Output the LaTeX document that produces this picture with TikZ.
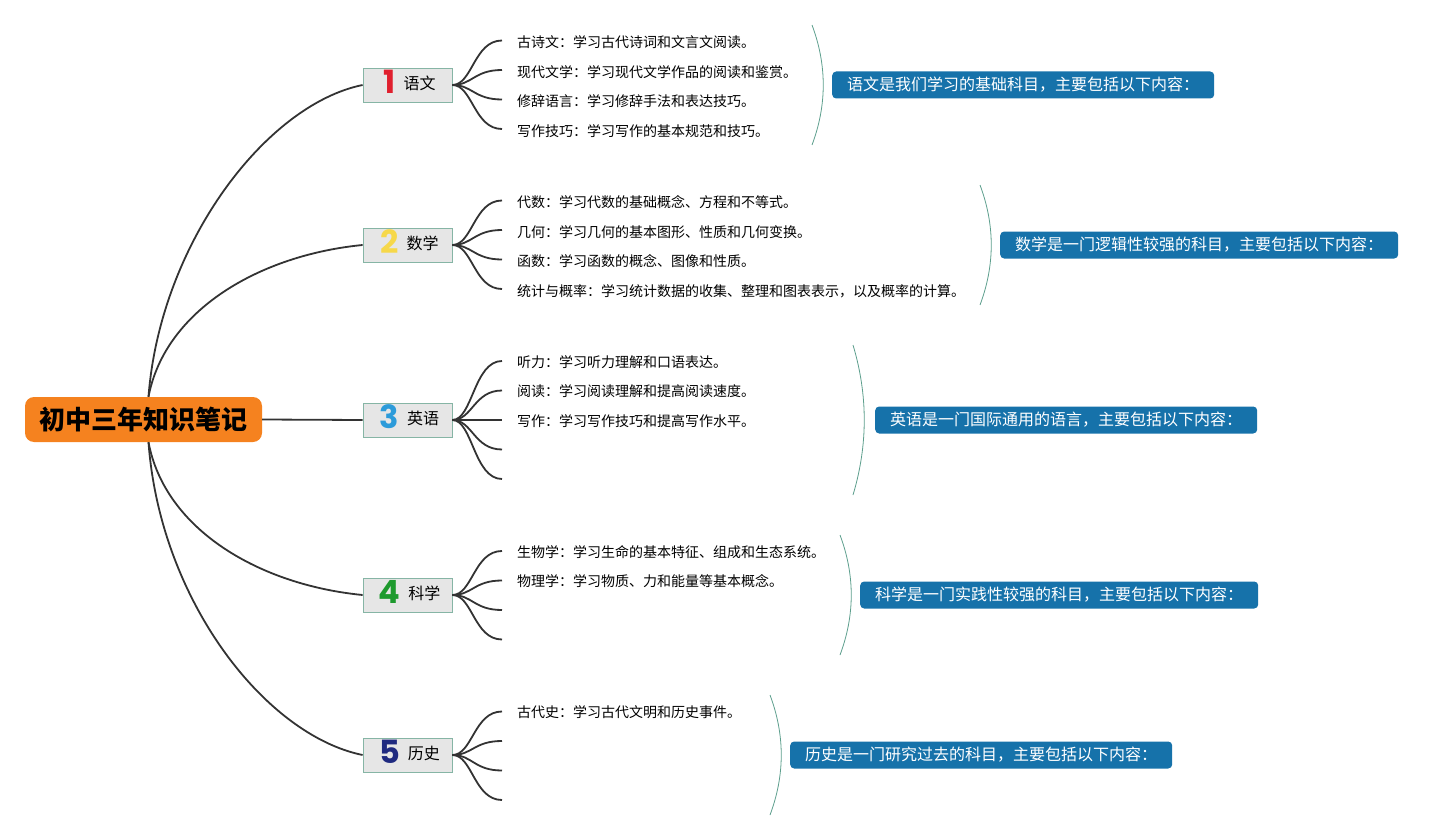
\documentclass[tikz,border=0pt]{standalone}
\usepackage{fontspec}
\setmainfont{Noto Sans CJK SC}
\newfontfamily\numfont{Poppins}
\usepackage{xcolor}
\usepackage{tikz}
\usetikzlibrary{positioning, calc}
\definecolor{rootorange}{HTML}{F5821F}
\definecolor{notesblue}{HTML}{1672AA}
\definecolor{boxfill}{HTML}{E6E6E6}
\definecolor{boxline}{HTML}{86B5A5}
\definecolor{arcgreen}{HTML}{5C9E8C}
\definecolor{linkgray}{HTML}{333333}
\definecolor{numred}{HTML}{E0202E}
\definecolor{numyellow}{HTML}{F6D84A}
\definecolor{numblue}{HTML}{2C9BDA}
\definecolor{numgreen}{HTML}{1E9A2E}
\definecolor{numnavy}{HTML}{1F2A80}

\newcommand{\subj}[2]{\raisebox{-4pt}{\smash{\textcolor{#1}{\numfont\bfseries\fontsize{32}{32}\selectfont #2}}}\hspace{8pt}}

\begin{document}
\begin{tikzpicture}[x=1pt, y=-1pt,
  rootbox/.style={fill=rootorange, rounded corners=9pt, minimum width=237pt, minimum height=45pt, inner sep=0pt, font=\fontsize{26}{28}\selectfont\bfseries},
  subject/.style={draw=boxline, fill=boxfill, line width=0.8pt, minimum width=89pt, minimum height=34pt, inner sep=0pt, font=\fontsize{16}{18}\selectfont},
  leaf/.style={anchor=west, inner sep=0pt, font=\fontsize{14}{16}\selectfont},
  summary/.style={fill=notesblue, text=white, rounded corners=4pt, minimum height=27pt, inner xsep=15pt, inner ysep=0pt, anchor=west, font=\fontsize{16}{18}\selectfont},
  link/.style={draw=linkgray, line width=1.8pt},
  arc/.style={draw=arcgreen, line width=0.8pt}]
  \useasboundingbox (0,0) rectangle (1444,840);

  % centre and subjects
  \node[rootbox] (root) at (143.5,419.5) {初中三年知识笔记};
  \node[subject] (yuwen) at (407.5,85) {\hspace{4pt}\subj{numred}{1}语文};
  \node[subject] (shuxue) at (407.5,245) {\hspace{4pt}\subj{numyellow}{2}数学};
  \node[subject] (yingyu) at (407.5,420) {\hspace{4pt}\subj{numblue}{3}英语};
  \node[subject] (kexue) at (407.5,595) {\hspace{4pt}\subj{numgreen}{4}科学};
  \node[subject] (lishi) at (407.5,755) {\hspace{4pt}\subj{numnavy}{5}历史};

  \coordinate (rtop) at ([xshift=5pt]root.north);
  \coordinate (rbot) at ([xshift=5pt]root.south);
  \draw[link] (rtop) .. controls (160,245) and (265,105) .. (yuwen.west);
  \draw[link] (rtop) .. controls (165,310) and (260,255) .. (shuxue.west);
  \draw[link] (root.east) -- (yingyu.west);
  \draw[link] (rbot) .. controls (165,530) and (260,585) .. (kexue.west);
  \draw[link] (rbot) .. controls (160,600) and (265,735) .. (lishi.west);

  % leaf ends
  \foreach \n/\s/\y in {y1/yuwen/40.5, y2/yuwen/70, y3/yuwen/99.5, y4/yuwen/129,
                        s1/shuxue/200.5, s2/shuxue/230, s3/shuxue/259.5, s4/shuxue/289,
                        e1/yingyu/361, e2/yingyu/390.5, e3/yingyu/420, e4/yingyu/449.5, e5/yingyu/479,
                        k1/kexue/551, k2/kexue/580.5, k3/kexue/610, k4/kexue/639.5,
                        l1/lishi/711.5, l2/lishi/741, l3/lishi/770.5, l4/lishi/800} {
    \coordinate (\n) at (502,\y);
    \draw[link] (\s.east) .. controls +(20,0) and +(-28,0) .. (\n);
  }

  % leaf texts
  \node[leaf] (ty1) at ([xshift=15pt,yshift=-2pt]y1) {古诗文：学习古代诗词和文言文阅读。};
  \node[leaf] (ty2) at ([xshift=15pt,yshift=-2pt]y2) {现代文学：学习现代文学作品的阅读和鉴赏。};
  \node[leaf] (ty3) at ([xshift=15pt,yshift=-2pt]y3) {修辞语言：学习修辞手法和表达技巧。};
  \node[leaf] (ty4) at ([xshift=15pt,yshift=-2pt]y4) {写作技巧：学习写作的基本规范和技巧。};
  \node[leaf] (ts1) at ([xshift=15pt,yshift=-2pt]s1) {代数：学习代数的基础概念、方程和不等式。};
  \node[leaf] (ts2) at ([xshift=15pt,yshift=-2pt]s2) {几何：学习几何的基本图形、性质和几何变换。};
  \node[leaf] (ts3) at ([xshift=15pt,yshift=-2pt]s3) {函数：学习函数的概念、图像和性质。};
  \node[leaf] (ts4) at ([xshift=15pt,yshift=-2pt]s4) {统计与概率：学习统计数据的收集、整理和图表表示，以及概率的计算。};
  \node[leaf] (te1) at ([xshift=15pt,yshift=-1pt]e1) {听力：学习听力理解和口语表达。};
  \node[leaf] (te2) at ([xshift=15pt,yshift=-1pt]e2) {阅读：学习阅读理解和提高阅读速度。};
  \node[leaf] (te3) at ([xshift=15pt,yshift=-1pt]e3) {写作：学习写作技巧和提高写作水平。};
  \node[leaf] (tk1) at ([xshift=15pt,yshift=-1pt]k1) {生物学：学习生命的基本特征、组成和生态系统。};
  \node[leaf] (tk2) at ([xshift=15pt,yshift=-1pt]k2) {物理学：学习物质、力和能量等基本概念。};
  \node[leaf] (tl1) at ([xshift=15pt,yshift=-1pt]l1) {古代史：学习古代文明和历史事件。};

  % summary arcs
  \draw[arc] (812,25) .. controls (827,65) and (827,105) .. (812,145);
  \draw[arc] (980,185) .. controls (995,225) and (995,265) .. (980,305);
  \draw[arc] (853,345) .. controls (868,395) and (868,445) .. (853,495);
  \draw[arc] (840,535) .. controls (855,575) and (855,615) .. (840,655);
  \draw[arc] (770,695) .. controls (785,735) and (785,775) .. (770,815);

  % summaries
  \node[summary] (nyuwen) at (832,85) {语文是我们学习的基础科目，主要包括以下内容：};
  \node[summary] (nshuxue) at (1000,245) {数学是一门逻辑性较强的科目，主要包括以下内容：};
  \node[summary] (nyingyu) at (875,420) {英语是一门国际通用的语言，主要包括以下内容：};
  \node[summary] (nkexue) at (860,595) {科学是一门实践性较强的科目，主要包括以下内容：};
  \node[summary] (nlishi) at (790,755) {历史是一门研究过去的科目，主要包括以下内容：};
\end{tikzpicture}
\end{document}
